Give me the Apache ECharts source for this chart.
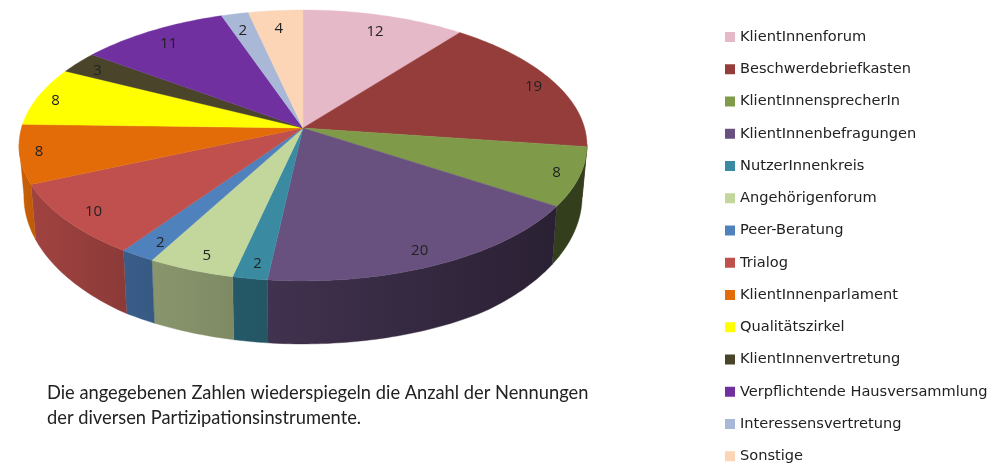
<!DOCTYPE html>
<html>
<head>
<meta charset="utf-8">
<style>
  html, body { margin: 0; padding: 0; background: #fff; }
  #chart { width: 1008px; height: 463px; }
</style>
<script src="https://cdn.jsdelivr.net/npm/echarts@6/dist/echarts.min.js"></script>
</head>
<body>
<div id="chart"></div>
<script>
const categories = ["KlientInnenforum", "Beschwerdebriefkasten", "KlientInnensprecherIn", "KlientInnenbefragungen", "NutzerInnenkreis", "Angehörigenforum", "Peer-Beratung", "Trialog", "KlientInnenparlament", "Qualitätszirkel", "KlientInnenvertretung", "Verpflichtende Hausversammlung", "Interessensvertretung", "Sonstige"];
const values = [12, 19, 8, 20, 2, 5, 2, 10, 8, 8, 3, 11, 2, 4];
const colors = ["#E6B9C8", "#953D3B", "#7F9A48", "#68507F", "#3A8BA1", "#C3D69B", "#4F81BD", "#C0504D", "#E36C09", "#FFFF00", "#4A452A", "#7030A0", "#A9B8D6", "#FBD5B5"];
const caption = "Die angegebenen Zahlen wiederspiegeln die Anzahl der Nennungen\nder diversen Partizipationsinstrumente.";

const total = values.reduce((a, b) => a + b, 0);
const DEG = Math.PI / 180;

// projected disc: perspective squeeze of a unit circle
const cx = 303, cy = 128, sx = 281.6, sy = 133.2, persp = -0.129;

function project(deg, r) {
    const u = Math.sin(deg * DEG) * r, v = -Math.cos(deg * DEG) * r;
    const w = 1 + persp * v;
    return [cx + sx * u / w, cy + sy * v / w];
}

// lower rim of the wall, slightly smaller than the top rim
function lower(p) {
    const depth = Math.min(63, 58 + (p[1] - 207) * 0.12);
    return [cx + (p[0] - cx) * 0.983, p[1] + depth];
}

function shade(hex, deg) {
    const f = Math.min(0.95, Math.max(0.4, 0.4 + (deg - 125) * 0.0036));
    const n = parseInt(hex.slice(1), 16);
    const c = [n >> 16, (n >> 8) & 255, n & 255].map(x => Math.round(x * f));
    return "rgb(" + c.join(",") + ")";
}

function arc(from, to) {
    const pts = [];
    const n = Math.max(1, Math.ceil(to - from));
    for (let i = 0; i <= n; i++) pts.push(from + (to - from) * i / n);
    return pts;
}

function sliceItem(index, start) {
    return function (params, api) {
        const value = api.value(0);
        const end = start + value / total * 360;
        const mid = (start + end) / 2;
        const children = [];

        // side wall, only on the front of the disc
        const a = Math.max(start, 97), b = Math.min(end, 263);
        if (b > a) {
            const top = arc(a, b).map(d => project(d, 1));
            const bottom = top.map(lower).reverse();
            children.push({
                type: "polygon",
                shape: { points: top.concat(bottom) },
                style: {
                    fill: new echarts.graphic.LinearGradient(0, 0, 1, 0, [
                        { offset: 0, color: shade(colors[index], Math.max(a, b)) },
                        { offset: 1, color: shade(colors[index], Math.min(a, b)) }
                    ]),
                    stroke: shade(colors[index], mid),
                    lineWidth: 0.4
                },
                z2: 1
            });
        }

        // top face
        children.push({
            type: "polygon",
            shape: { points: [[cx, cy]].concat(arc(start, end).map(d => project(d, 1))) },
            style: { fill: colors[index], stroke: colors[index], lineWidth: 0.4 },
            z2: 2
        });

        // number label
        const u = Math.sin(mid * DEG), v = -Math.cos(mid * DEG);
        const p = project(mid, 0.87);
        children.push({
            type: "text",
            style: {
                x: cx + (p[0] - cx) * (1 + 0.08 * Math.pow(u, 4)),
                y: p[1] + (v > 0 ? 7 * v : 4 * Math.pow(v, 4)),
                text: String(value),
                align: "center",
                verticalAlign: "middle",
                fontFamily: "Open Sans",
                fontSize: 15,
                fill: "#222"
            },
            z2: 10
        });
        return { type: "group", children: children };
    };
}

let running = 0;
const series = categories.map((name, i) => {
    const start = running / total * 360;
    running += values[i];
    return {
        type: "custom",
        name: name,
        coordinateSystem: "none",
        silent: true,
        animation: false,
        itemStyle: { color: colors[i] },
        data: [[values[i]]],
        renderItem: sliceItem(i, start)
    };
});

const chart = echarts.init(document.getElementById("chart"));
chart.setOption({
    backgroundColor: "#fff",
    animation: false,
    title: {
        text: caption,
        left: 47,
        top: 381,
        padding: 0,
        textStyle: { fontFamily: "Lato", fontSize: 18.3, fontWeight: "normal", color: "#222", lineHeight: 25 }
    },
    legend: {
        orient: "vertical",
        left: 725,
        top: 29,
        height: 600,
        padding: 0,
        itemWidth: 10,
        itemHeight: 10,
        itemGap: 16.25,
        icon: "rect",
        selectedMode: false,
        data: categories,
        textStyle: { fontFamily: "DejaVu Sans", fontSize: 14.6, color: "#222", lineHeight: 16, padding: [0, 0, 0, 0] }
    },
    series: series
});

window.addEventListener("resize", () => chart.resize());
</script>
</body>
</html>
